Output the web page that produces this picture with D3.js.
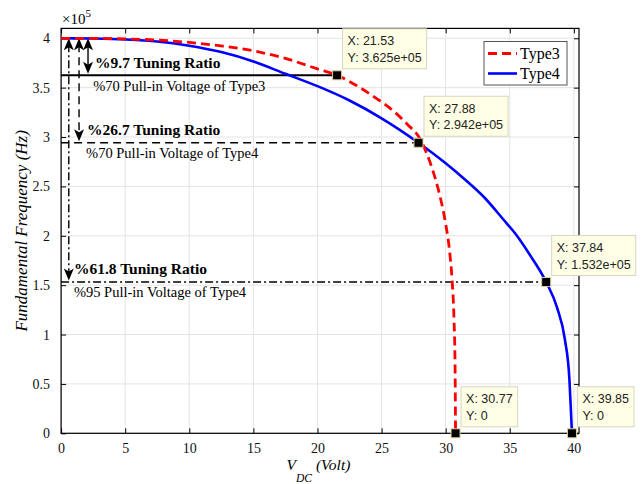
<!DOCTYPE html>
<html>
<head>
<meta charset="utf-8">
<script src="https://cdn.jsdelivr.net/npm/d3@7"></script>
<style>
  body { margin: 0; background: #fff; }
  svg { display: block; }
</style>
</head>
<body>
<div id="chart"></div>
<script>
// values (frequency in units of 1e5 Hz)
const type3Volt = [0, 2.5, 5, 7.5, 10, 12.5, 15, 17.5, 20, 21.53, 23, 24.5, 26, 27, 28, 28.5, 29, 29.5, 30, 30.3, 30.5, 30.65, 30.73, 30.77];
const type3Freq = [4.000, 3.999, 3.994, 3.982, 3.958, 3.922, 3.873, 3.796, 3.69, 3.625, 3.525, 3.40, 3.255, 3.13, 2.98, 2.84, 2.66, 2.43, 2.12, 1.85, 1.55, 1.15, 0.70, 0];

const type4Volt = [0, 2.5, 5, 7.5, 10, 12.5, 15, 17.5, 20, 22.5, 25, 27.88, 30, 31.5, 33, 34.5, 35.5, 36.5, 37.84, 38.67, 39.3, 39.65, 39.78, 39.85];
const type4Freq = [4.000, 3.997, 3.988, 3.968, 3.925, 3.86, 3.765, 3.64, 3.515, 3.37, 3.19, 2.942, 2.734, 2.57, 2.39, 2.165, 2.01, 1.82, 1.532, 1.28, 0.95, 0.55, 0.2, 0];

const xTicks = [0, 5, 10, 15, 20, 25, 30, 35, 40];
const yTicks = [0, 0.5, 1, 1.5, 2, 2.5, 3, 3.5, 4];

const tipVolt = [21.53, 27.88, 37.84, 30.77, 39.85];
const tipFreq = [3.625, 2.942, 1.532, 0, 0];

// guide lines: tuning level, where the arrow sits, label anchors
const guideFreq = [3.625, 2.942, 1.532];
const guideEnd = [21.53, 27.88, 37.84];
const arrowVolt = [2.1, 1.4, 0.6];
const ratioLabels = ["%9.7 Tuning Ratio", "%26.7 Tuning Ratio", "%61.8 Tuning Ratio"];
const ratioLabelVolt = [2.65, 2.03, 1.0];
const pullLabels = ["%70 Pull-in Voltage of Type3", "%70 Pull-in Voltage of Type4", "%95 Pull-in Voltage of Type4"];
const pullLabelVolt = [2.5, 1.95, 1.0];
const guideDash = [null, "8,5", "8,3,2,3"];

const legendNames = ["Type3", "Type4"];

const W = 642, H = 484;
const margin = {top: 28.4, right: 63, bottom: 50.7, left: 61.1};
const width = W - margin.left - margin.right,
      height = H - margin.top - margin.bottom;

const svg = d3.select("#chart")
.append("svg")
  .attr("width", W)
  .attr("height", H);

const g = svg.append("g")
  .attr("transform", `translate(${margin.left}, ${margin.top})`);

const x = d3.scaleLinear()
.domain([0, 40.4])
.range([0, width]);
const y = d3.scaleLinear()
.domain([0, 4.1])
.range([height, 0]);

const serif = "'Liberation Serif', 'Times New Roman', serif";
const sans = "'Liberation Sans', Arial, sans-serif";

// grid
g.append("g")
.selectAll("line")
.data(xTicks)
.enter()
.append("line")
  .attr("x1", d => x(d)).attr("x2", d => x(d))
  .attr("y1", 0).attr("y2", height)
  .attr("stroke", "#e4e4e4");
g.append("g")
.selectAll("line")
.data(yTicks)
.enter()
.append("line")
  .attr("y1", d => y(d)).attr("y2", d => y(d))
  .attr("x1", 0).attr("x2", width)
  .attr("stroke", "#e4e4e4");

// axes with inward ticks on all four sides
const tl = 5;
g.append("g")
  .attr("transform", `translate(0, ${height})`)
  .call(d3.axisBottom(x).tickValues(xTicks).tickSizeInner(-tl).tickSizeOuter(0).tickPadding(10).tickFormat(d => d))
  .call(a => a.selectAll("text").style("font", `14px ${serif}`).attr("fill", "#111"));
g.append("g")
  .call(d3.axisLeft(y).tickValues(yTicks).tickSizeInner(-tl).tickSizeOuter(0).tickPadding(11).tickFormat(d => d))
  .call(a => a.selectAll("text").style("font", `14px ${serif}`).attr("fill", "#111"));
g.append("g")
  .call(d3.axisTop(x).tickValues(xTicks).tickSizeInner(-tl).tickSizeOuter(0).tickFormat(""));
g.append("g")
  .attr("transform", `translate(${width}, 0)`)
  .call(d3.axisRight(y).tickValues(yTicks).tickSizeInner(-tl).tickSizeOuter(0).tickFormat(""));
g.selectAll(".domain").remove();
g.selectAll(".tick line").attr("stroke", "#000");

g.append("rect")
  .attr("width", width)
  .attr("height", height)
  .attr("fill", "none")
  .attr("stroke", "#000")
  .attr("stroke-width", 1.2);

// exponent
svg.append("text")
  .attr("x", margin.left + 1)
  .attr("y", 24)
  .style("font", `15px ${serif}`)
  .text("\u00d710")
.append("tspan")
  .attr("dy", -7)
  .style("font-size", "11px")
  .text("5");

// guide lines
guideFreq.forEach((f, i) => {
  g.append("line")
    .attr("x1", x(0)).attr("x2", x(guideEnd[i]))
    .attr("y1", y(f)).attr("y2", y(f))
    .attr("stroke", "#000")
    .attr("stroke-width", i === 0 ? 2 : 1.4)
    .attr("stroke-dasharray", guideDash[i]);

  const ax = x(arrowVolt[i]);
  const top = y(4.0), bot = y(f) - 1.5;
  g.append("line")
    .attr("x1", ax).attr("x2", ax)
    .attr("y1", top + 6).attr("y2", bot - 6)
    .attr("stroke", "#000")
    .attr("stroke-width", 1.4)
    .attr("stroke-dasharray", guideDash[i]);
  const head = "M0,0 L-5,12 L0,9 L5,12 Z";
  g.append("path")
    .attr("d", head)
    .attr("transform", `translate(${ax}, ${top})`)
    .attr("fill", "#000");
  g.append("path")
    .attr("d", head)
    .attr("transform", `translate(${ax}, ${bot}) rotate(180)`)
    .attr("fill", "#000");

  g.append("text")
    .attr("x", x(ratioLabelVolt[i]))
    .attr("y", y(f) - 7.5)
    .style("font", `bold 15.5px ${serif}`)
    .text(ratioLabels[i]);
  g.append("text")
    .attr("x", x(pullLabelVolt[i]))
    .attr("y", y(f) + 15.5)
    .style("font", `14.5px ${serif}`)
    .text(pullLabels[i]);
});

// curves
const line = d3.line()
  .x(d => x(d[0]))
  .y(d => y(d[1]))
  .curve(d3.curveMonotoneX);

g.append("path")
  .datum(d3.zip(type4Volt, type4Freq))
  .attr("d", line)
  .attr("fill", "none")
  .attr("stroke", "#0000ff")
  .attr("stroke-width", 2.6);

g.append("path")
  .datum(d3.zip(type3Volt, type3Freq))
  .attr("d", line)
  .attr("fill", "none")
  .attr("stroke", "#ff0000")
  .attr("stroke-width", 2.8)
  .attr("stroke-dasharray", "9,5");

// data tips
const fmtY = v => v === 0 ? "0" : (v * 1e5).toExponential(3).replace(/e\+(\d)$/, "e+0$1");
tipVolt.forEach((v, i) => {
  const mx = x(v), my = y(tipFreq[i]);
  const tip = g.append("g")
    .attr("transform", `translate(${mx + 5.5}, ${my - 46.5})`);
  const box = tip.append("rect")
    .attr("height", 40)
    .attr("fill", "#ffffe6")
    .attr("stroke", "#d6d6c2");
  const t1 = tip.append("text")
    .attr("x", 5).attr("y", 16.5)
    .style("font", `12.5px ${sans}`)
    .attr("fill", "#222")
    .text(`X: ${v}`);
  const t2 = tip.append("text")
    .attr("x", 5).attr("y", 33)
    .style("font", `12.5px ${sans}`)
    .attr("fill", "#222")
    .text(`Y: ${fmtY(tipFreq[i])}`);
  const w = Math.max(t1.node().getComputedTextLength(), t2.node().getComputedTextLength());
  box.attr("width", w + 10);

  g.append("rect")
    .attr("x", mx - 4.5).attr("y", my - 4.5)
    .attr("width", 9).attr("height", 9)
    .attr("fill", "#000")
    .attr("stroke", "#d8cf9e")
    .attr("stroke-width", 1);
});

// legend
const legend = svg.append("g")
  .attr("transform", "translate(484, 41.5)");
legend.append("rect")
  .attr("width", 83)
  .attr("height", 43.5)
  .attr("fill", "#fff")
  .attr("stroke", "#555");
legendNames.forEach((name, i) => {
  const ly = 12 + i * 20;
  legend.append("line")
    .attr("x1", 4).attr("x2", 33)
    .attr("y1", ly).attr("y2", ly)
    .attr("stroke", i === 0 ? "#ff0000" : "#0000ff")
    .attr("stroke-width", i === 0 ? 2.8 : 2.6)
    .attr("stroke-dasharray", i === 0 ? "9,5" : null);
  legend.append("text")
    .attr("x", 36)
    .attr("y", ly + 5.5)
    .style("font", `16px ${serif}`)
    .text(name);
});

// axis titles
svg.append("text")
  .attr("transform", `translate(26.5, ${margin.top + y(2.05)}) rotate(-90)`)
  .attr("text-anchor", "middle")
  .style("font", `italic 17px ${serif}`)
  .text("Fundamental Frequency (Hz)");

const xt = svg.append("text")
  .attr("x", 286.5)
  .attr("y", 470)
  .style("font", `italic 15.5px ${serif}`);
xt.append("tspan").text("V");
xt.append("tspan").attr("dy", 11.5).style("font-size", "11.5px").text("DC");
xt.append("tspan").attr("dy", -11.5).attr("dx", 4).text("(Volt)");
</script>
</body>
</html>
